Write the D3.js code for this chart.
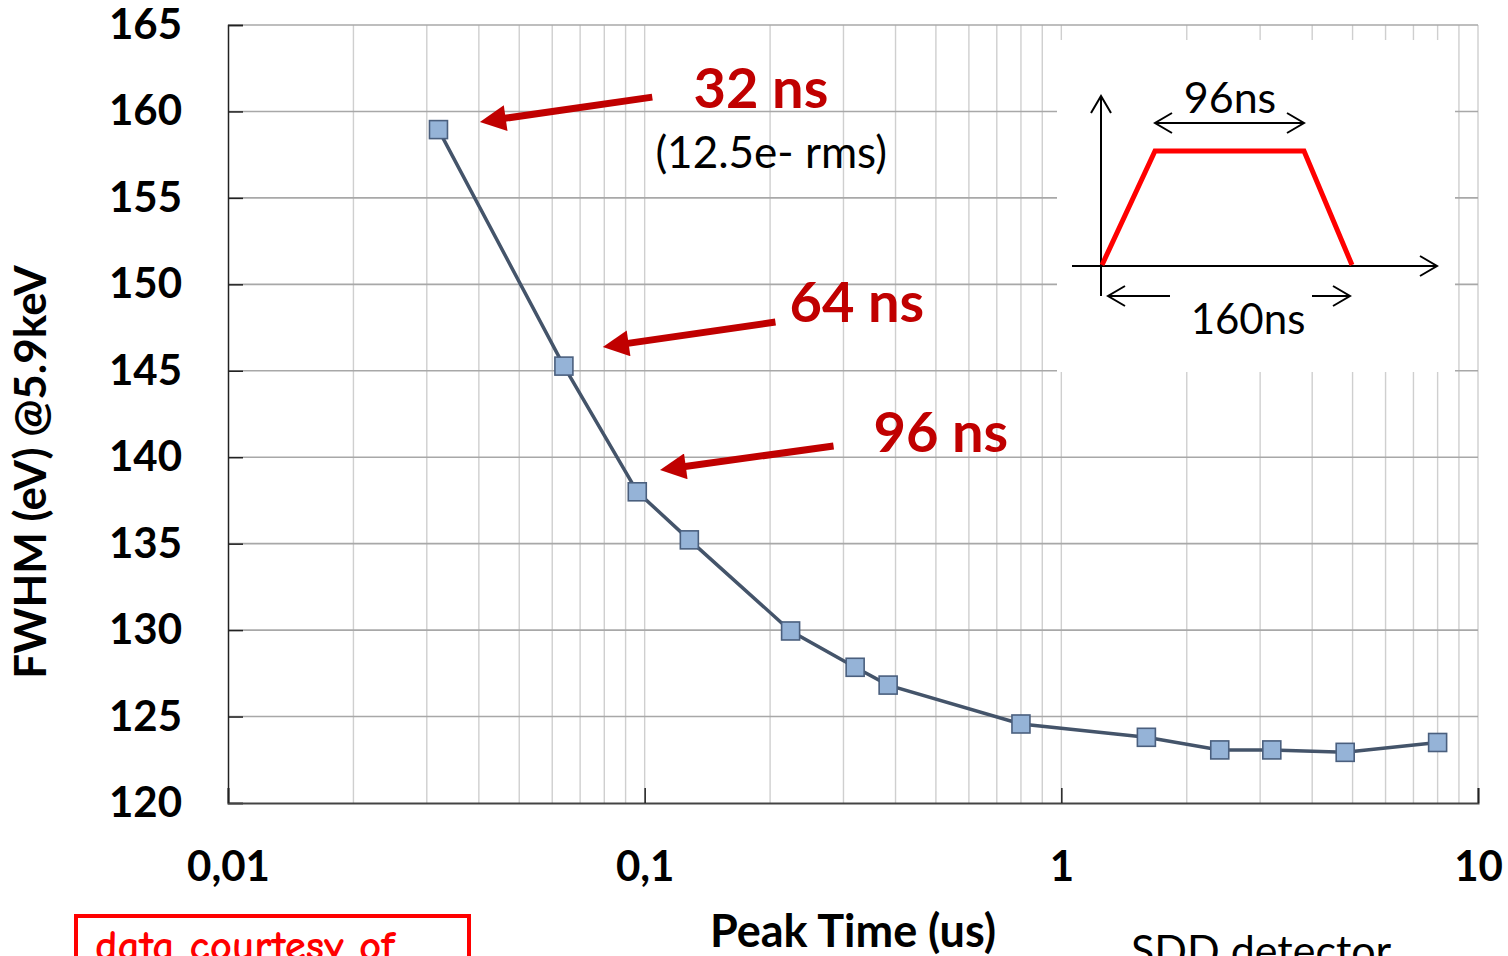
<!DOCTYPE html>
<html>
<head>
<meta charset="utf-8">
<script src="https://cdn.jsdelivr.net/npm/d3@7"></script>
<style>
  html, body { margin: 0; padding: 0; background: #fff; }
  svg { display: block; }
</style>
</head>
<body>
<svg id="chart" width="1508" height="956"></svg>
<script>
// Energy resolution of an SDD detector versus shaper peaking time
const peakTimes = [0.032, 0.064, 0.096, 0.128, 0.224, 0.32, 0.384, 0.8, 1.6, 2.4, 3.2, 4.8, 8.0];
const fwhm      = [158.95, 145.27, 138.0, 135.22, 129.95, 127.85, 126.82, 124.57, 123.8, 123.07, 123.07, 122.93, 123.5];

const xTickValues = [0.01, 0.1, 1, 10];
const yTickValues = [120, 125, 130, 135, 140, 145, 150, 155, 160, 165];

// Call-outs: label text, label anchor and arrow (tail -> tip), all in data units
const callouts = [
  { text: "32 ns", lx: 0.131, ly: 160.2, tail: [0.1043, 160.83], tip: [0.0401, 159.39] },
  { text: "64 ns", lx: 0.2226, ly: 147.8, tail: [0.206, 147.82], tip: [0.0791, 146.37] },
  { text: "96 ns", lx: 0.354, ly: 140.3, tail: [0.284, 140.65], tip: [0.1085, 139.26] }
];
const noteText = "(12.5e- rms)";
const notePos = [0.1061, 156.7];

const FONT = "Lato, 'Open Sans', sans-serif";
const margin = { left: 228, top: 25, right: 30, bottom: 153 };
const width = 1508, height = 956;

const svg = d3.select("#chart");

const x = d3.scaleLog().domain([0.01, 10]).range([margin.left, width - margin.right]);
const y = d3.scaleLinear().domain([120, 165]).range([height - margin.bottom, margin.top]);

const [x0, x1] = x.range();
const [yBottom, yTop] = y.range();

// vertical grid (decades and sub-decades)
svg.append("g")
  .selectAll("line")
  .data(x.ticks().filter(d => d > 0.01))
  .join("line")
  .attr("x1", d => x(d)).attr("x2", d => x(d))
  .attr("y1", yTop).attr("y2", yBottom)
  .attr("stroke", "#cfcfcf").attr("stroke-width", 1.4);

// horizontal grid
svg.append("g")
  .selectAll("line")
  .data(yTickValues.filter(d => d > 120))
  .join("line")
  .attr("x1", x0).attr("x2", x1)
  .attr("y1", d => y(d)).attr("y2", d => y(d))
  .attr("stroke", "#a8a8a8").attr("stroke-width", 1.6);

// axes
const yAxis = svg.append("g")
  .attr("transform", `translate(${x0},0)`)
  .call(d3.axisLeft(y).tickValues(yTickValues).tickSize(-15).tickPadding(46).tickFormat(d3.format("d")));
yAxis.select(".domain").attr("stroke", "#222").attr("stroke-width", 1.5);
yAxis.selectAll(".tick line").attr("stroke", "#222").attr("stroke-width", 1.5);
yAxis.selectAll("text")
  .attr("font-family", FONT).attr("font-weight", "bold").attr("font-size", 42).attr("fill", "#000");

const xAxis = svg.append("g")
  .attr("transform", `translate(0,${yBottom})`)
  .call(d3.axisBottom(x).tickValues(xTickValues).tickSize(-15).tickPadding(48)
    .tickFormat(d => String(d).replace(".", ",")));
xAxis.select(".domain").attr("stroke", "#444").attr("stroke-width", 2);
xAxis.selectAll(".tick line").attr("stroke", "#222").attr("stroke-width", 1.5);
xAxis.selectAll("text")
  .attr("font-family", FONT).attr("font-weight", "bold").attr("font-size", 42).attr("fill", "#000");

// axis titles
svg.append("text")
  .attr("transform", "translate(46,472) rotate(-90)")
  .attr("text-anchor", "middle")
  .attr("font-family", FONT).attr("font-weight", "bold").attr("font-size", 44)
  .text("FWHM (eV) @5.9keV");

svg.append("text")
  .attr("x", 853).attr("y", 947)
  .attr("text-anchor", "middle")
  .attr("font-family", FONT).attr("font-weight", "bold").attr("font-size", 45)
  .text("Peak Time (us)");

// series line and markers
const pts = peakTimes.map((t, i) => [t, fwhm[i]]);
svg.append("path")
  .datum(pts)
  .attr("fill", "none")
  .attr("stroke", "#44546a")
  .attr("stroke-width", 3.5)
  .attr("d", d3.line().x(d => x(d[0])).y(d => y(d[1])));

const ms = 18;
svg.append("g")
  .selectAll("rect")
  .data(pts)
  .join("rect")
  .attr("x", d => x(d[0]) - ms / 2).attr("y", d => y(d[1]) - ms / 2)
  .attr("width", ms).attr("height", ms)
  .attr("fill", "#95b3d7").attr("stroke", "#4a5f7e").attr("stroke-width", 1.6);

// red call-out arrows and labels
const defs = svg.append("defs");
defs.append("marker")
  .attr("id", "redHead")
  .attr("viewBox", "0 0 10 10")
  .attr("refX", 1).attr("refY", 5)
  .attr("markerUnits", "userSpaceOnUse")
  .attr("markerWidth", 28).attr("markerHeight", 26)
  .attr("orient", "auto")
  .append("path").attr("d", "M0,0 L10,5 L0,10 Z").attr("fill", "#c00000");

callouts.forEach(c => {
  const tx = x(c.tail[0]), ty = y(c.tail[1]);
  const hx = x(c.tip[0]), hy = y(c.tip[1]);
  const len = Math.hypot(hx - tx, hy - ty);
  const back = 24; // line stops where the arrowhead begins
  svg.append("line")
    .attr("x1", tx).attr("y1", ty)
    .attr("x2", hx - (hx - tx) / len * back).attr("y2", hy - (hy - ty) / len * back)
    .attr("stroke", "#c00000").attr("stroke-width", 7)
    .attr("marker-end", "url(#redHead)");
  svg.append("text")
    .attr("x", x(c.lx)).attr("y", y(c.ly))
    .attr("font-family", FONT).attr("font-weight", "bold").attr("font-size", 56)
    .attr("fill", "#c00000")
    .text(c.text);
});

svg.append("text")
  .attr("x", x(notePos[0])).attr("y", y(notePos[1]))
  .attr("font-family", FONT).attr("font-size", 44).attr("fill", "#000")
  .text(noteText);

// inset: trapezoidal shaping sketch
const inset = svg.append("g");
inset.append("rect")
  .attr("x", 1057).attr("y", 40).attr("width", 398).attr("height", 332)
  .attr("fill", "#fff");

const blk = { stroke: "#000", "stroke-width": 2, fill: "none" };
function seg(g, pts) {
  const p = g.append("path").attr("d", d3.line()(pts));
  Object.entries(blk).forEach(([k, v]) => p.attr(k, v));
  return p;
}
// axes of the sketch
seg(inset, [[1101, 96], [1101, 296]]);
seg(inset, [[1091, 113], [1101, 96], [1111, 113]]);
seg(inset, [[1072, 266], [1437, 266]]);
seg(inset, [[1420, 256], [1437, 266], [1420, 276]]);
// trapezoid
inset.append("path")
  .attr("d", d3.line()([[1102, 265], [1155, 151], [1304, 151], [1352, 265]]))
  .attr("fill", "none").attr("stroke", "#ff0000").attr("stroke-width", 5)
  .attr("stroke-linejoin", "miter");
// flat-top width
seg(inset, [[1155, 123], [1304, 123]]);
seg(inset, [[1172, 113], [1155, 123], [1172, 133]]);
seg(inset, [[1287, 113], [1304, 123], [1287, 133]]);
inset.append("text").attr("x", 1230).attr("y", 113).attr("text-anchor", "middle")
  .attr("font-family", FONT).attr("font-size", 43).text("96ns");
// total width
seg(inset, [[1170, 296], [1108, 296]]);
seg(inset, [[1125, 286], [1108, 296], [1125, 306]]);
seg(inset, [[1312, 296], [1350, 296]]);
seg(inset, [[1333, 286], [1350, 296], [1333, 306]]);
inset.append("text").attr("x", 1248).attr("y", 334).attr("text-anchor", "middle")
  .attr("font-family", FONT).attr("font-size", 42).text("160ns");

// bottom notes
svg.append("rect")
  .attr("x", 76).attr("y", 916).attr("width", 393).attr("height", 60)
  .attr("fill", "none").attr("stroke", "#ff0000").attr("stroke-width", 4);
svg.append("text")
  .attr("x", 95).attr("y", 960)
  .attr("font-family", "'Comic Sans MS', 'Comic Neue', Lato, sans-serif").attr("font-weight", "bold")
  .attr("font-size", 43).attr("fill", "#ff0000")
  .text("data courtesy of");
svg.append("text")
  .attr("x", 1131).attr("y", 966)
  .attr("font-family", FONT).attr("font-size", 43).attr("fill", "#000")
  .text("SDD detector");
</script>
</body>
</html>
